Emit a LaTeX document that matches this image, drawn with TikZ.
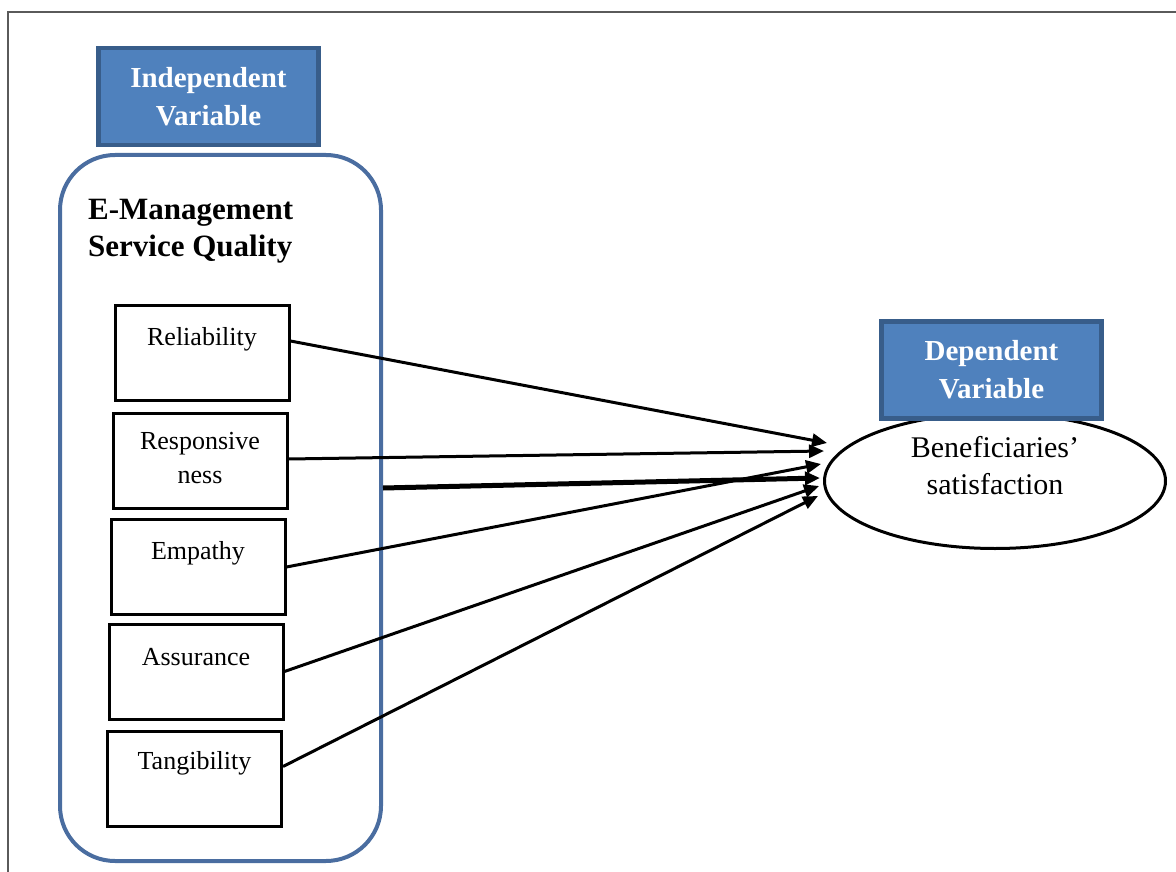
\documentclass[tikz,border=0pt]{standalone}
\usepackage{fontspec}
\setmainfont{Liberation Serif}
\usetikzlibrary{arrows.meta,shapes.geometric}

\definecolor{varfill}{RGB}{79,129,189}
\definecolor{varedge}{RGB}{56,93,138}
\definecolor{groupedge}{RGB}{74,109,160}
\definecolor{framegray}{RGB}{90,90,90}

\tikzset{
  varbox/.style={draw=varedge, fill=varfill, line width=4.5pt,
    minimum width=220pt, minimum height=97pt, text=white, align=center,
    font=\fontsize{29}{38}\selectfont\bfseries},
  groupbox/.style={draw=groupedge, line width=4pt, rounded corners=55pt,
    minimum width=321pt, minimum height=706pt},
  grouptitle/.style={inner sep=0pt, align=left,
    font=\fontsize{31}{37}\selectfont\bfseries},
  itembox/.style={draw, line width=3pt, minimum width=174pt, minimum height=95pt},
  itemtext/.style={inner sep=0pt, align=center, font=\fontsize{26}{34}\selectfont},
  outcome/.style={draw, ellipse, line width=3pt, minimum width=341pt, minimum height=135pt},
  outcometext/.style={inner sep=0pt, align=center, font=\fontsize{30}{37}\selectfont},
  effect/.style={draw, line width=3pt, -{Triangle[length=15pt,width=13pt]}},
  mainline/.style={effect, line width=5pt}
}

\begin{document}
\begin{tikzpicture}[x=1pt,y=-1pt]
  \useasboundingbox (0,0) rectangle (1176,872);

  % page frame
  \draw [framegray, line width=1.5pt] (8,872) -- (8,12) -- (1176,12);

  % independent side
  \node [varbox] (indep) at (208.5,96.5) {Independent\\Variable};
  \node [groupbox] (emsq) at (220.5,508) {};
  \node [grouptitle, anchor=west] (emsqtitle) at (88,231.5) {E-Management\\Service Quality};

  \node [itembox] (rel) at (202,353) {};
  \node [itembox] (resp) at (200,461) {};
  \node [itembox] (emp) at (198,567) {};
  \node [itembox] (ass) at (196,671.5) {};
  \node [itembox] (tang) at (194.5,778.5) {};

  \node [itemtext] (reltxt) at ([yshift=14pt]rel.center) {Reliability};
  \node [itemtext] (resptxt) at ([yshift=3pt]resp.center) {Responsive\\ness};
  \node [itemtext] (emptxt) at ([yshift=14pt]emp.center) {Empathy};
  \node [itemtext] (asstxt) at ([yshift=14pt]ass.center) {Assurance};
  \node [itemtext] (tangtxt) at ([yshift=15pt]tang.center) {Tangibility};

  % dependent side
  \node [outcome] (sat) at (995,481) {};
  \node [outcometext] (sattxt) at ([yshift=15pt]sat.center) {Beneficiaries’\\satisfaction};
  \node [varbox] (dep) at (991.5,370) {Dependent\\Variable};

  \coordinate (toRel) at ([shift={(4pt,38pt)}]sat.west);
  \coordinate (toResp) at ([shift={(1pt,30pt)}]sat.west);
  \coordinate (toEmp) at ([shift={(-2pt,17pt)}]sat.west);
  \coordinate (toAll) at ([shift={(-3pt,3pt)}]sat.west);
  \coordinate (toAss) at ([shift={(-4pt,-5pt)}]sat.west);
  \coordinate (toTang) at ([shift={(-5pt,-15pt)}]sat.west);

  % effects
  \draw [effect] ([yshift=12pt]rel.east) -- (toRel);
  \draw [effect] ([yshift=2pt]resp.east) -- (toResp);
  \draw [effect] (emp.east) -- (toEmp);
  \draw [effect] (ass.east) -- (toAss);
  \draw [effect] ([yshift=12pt]tang.east) -- (toTang);
  \draw [mainline] ([yshift=20pt]emsq.east) -- (toAll);
\end{tikzpicture}
\end{document}
